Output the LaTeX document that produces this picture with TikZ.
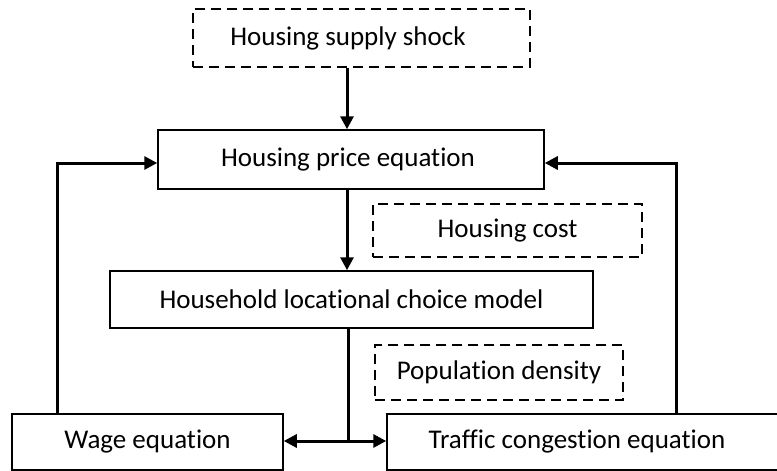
\documentclass[tikz,border=0pt]{standalone}
\usepackage{fontspec}
\setmainfont{Carlito}[Ligatures=NoCommon]
\usetikzlibrary{arrows.meta}
\usetikzlibrary{positioning}
\tikzset{block/.style={rectangle,draw=black,line width=1.5pt,inner sep=0pt,
font=\fontsize{27}{32}\selectfont},
input/.style={block,dash pattern=on 10pt off 6pt},
link/.style={color=black,line width=3pt},
>={Triangle[length=13pt,width=13pt]}}
\begin{document}
\begin{tikzpicture}[x=1pt,y=-1pt]
  \useasboundingbox (0,0) rectangle (777,471);
  \node (shock) [input,minimum width=337pt,minimum height=58pt] at (361.5,38) {Housing supply shock\hspace*{27pt}};
  \node (price) [block,minimum width=386pt,minimum height=59pt] at (351,159.5) {Housing price equation\hspace*{6pt}};
  \node (cost) [input,minimum width=269pt,minimum height=53pt] at (507.5,230.5) {Housing cost};
  \node (household) [block,minimum width=483pt,minimum height=57pt] at (351.5,299.5) {Household locational choice model};
  \node (density) [input,minimum width=248pt,minimum height=55pt] at (499,372.5) {Population density};
  \node (wage) [block,minimum width=271pt,minimum height=56pt] at (147.5,442) {Wage equation};
  \node (traffic) [block,minimum width=392pt,minimum height=56pt] at (583,442) {Traffic congestion equation\hspace*{12pt}};
  \coordinate (split) at (348,441);
  \draw [link,->] ([xshift=-14.5pt]shock.south) -- ([xshift=-14.5pt]shock.south |- price.north);
  \draw [link,->] ([xshift=-4pt]price.south) -- ([xshift=-4pt]price.south |- household.north);
  \draw [link] (household.south -| split) -- (split);
  \draw [link,->] (split) -- (wage.east |- split);
  \draw [link,->] (split) -- (traffic.west |- split);
  \draw [link,->] ([xshift=-90.5pt]wage.north) |- ([yshift=-3.5pt]price.west);
  \draw [link,->] ([xshift=93pt]traffic.north) |- ([yshift=-3.5pt]price.east);
\end{tikzpicture}
\end{document}
